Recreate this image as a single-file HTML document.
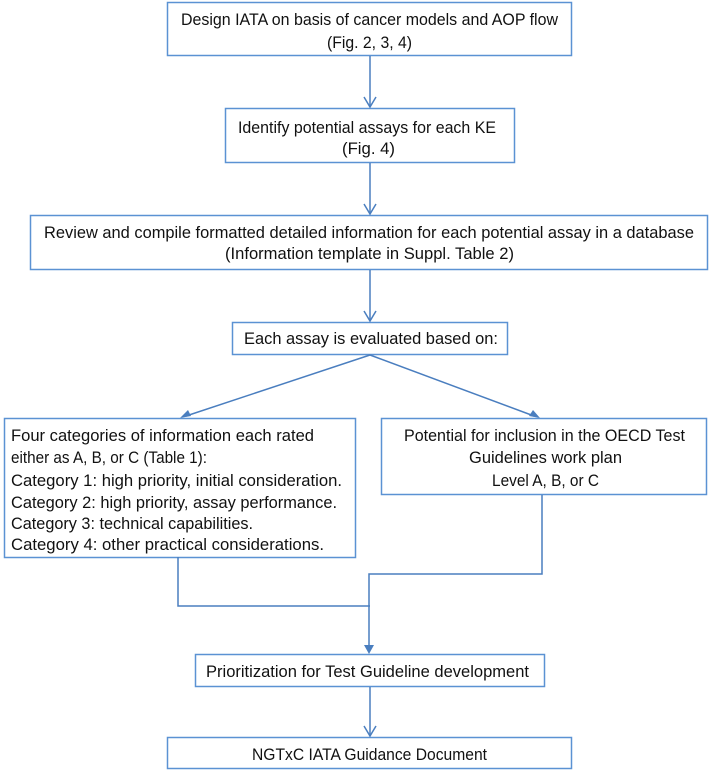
<!DOCTYPE html>
<html><head><meta charset="utf-8"><style>
html,body{margin:0;padding:0;background:#fff;overflow:hidden;width:709px;height:770px;}
svg{display:block;}
text{font-family:"Liberation Sans",sans-serif;font-size:17px;fill:#111;}
</style></head><body>
<svg width="709" height="770" viewBox="0 0 709 770" xmlns="http://www.w3.org/2000/svg">
<g fill="none" stroke="#5b92d3" stroke-width="1.5">
<rect x="167.5" y="2.5" width="404" height="53"/>
<rect x="225.5" y="108.5" width="289" height="54"/>
<rect x="30.5" y="215.5" width="677" height="54"/>
<rect x="232.5" y="322.5" width="275" height="32"/>
<rect x="4.5" y="418.5" width="351" height="139"/>
<rect x="381.5" y="418.5" width="325" height="76"/>
<rect x="195.5" y="654.5" width="349" height="32"/>
<rect x="167.5" y="737.5" width="404" height="31"/>
</g>
<g fill="none" stroke="#4a7ebf" stroke-width="1.5">
<line x1="370" y1="56" x2="370" y2="107"/><polyline points="364,97 370,107 376,97"/>
<line x1="370" y1="163" x2="370" y2="214"/><polyline points="364,204 370,214 376,204"/>
<line x1="370" y1="270" x2="370" y2="321"/><polyline points="364,311 370,321 376,311"/>
<line x1="370" y1="355" x2="186" y2="416"/>
<line x1="370" y1="355" x2="534" y2="416"/>
<polyline points="178,557 178,606 370,606"/>
<polyline points="542,495 542,574 369,574 369,645"/>
<line x1="370" y1="687" x2="370" y2="736"/><polyline points="364,726 370,736 376,726"/>
</g>
<g fill="#4a7ebf">
<polygon points="180,418 188,410 191,416"/>
<polygon points="540,418 529,416 533,410"/>
<polygon points="364,645 374,645 369,654"/>
</g>
<text x="181" y="25" textLength="377" lengthAdjust="spacingAndGlyphs">Design IATA on basis of cancer models and AOP flow</text>
<text x="327" y="48" textLength="85" lengthAdjust="spacingAndGlyphs">(Fig. 2, 3, 4)</text>
<text x="238" y="133" textLength="258" lengthAdjust="spacingAndGlyphs">Identify potential assays for each KE</text>
<text x="342" y="154" textLength="53" lengthAdjust="spacingAndGlyphs">(Fig. 4)</text>
<text x="44" y="238" textLength="650" lengthAdjust="spacingAndGlyphs">Review and compile formatted detailed information for each potential assay in a database</text>
<text x="225" y="259" textLength="289" lengthAdjust="spacingAndGlyphs">(Information template in Suppl. Table 2)</text>
<text x="244" y="344" textLength="254" lengthAdjust="spacingAndGlyphs">Each assay  is evaluated based on:</text>
<text x="11" y="441" textLength="303" lengthAdjust="spacingAndGlyphs">Four categories of information each rated</text>
<text x="11" y="463" textLength="196" lengthAdjust="spacingAndGlyphs">either as A, B, or C (Table 1):</text>
<text x="11" y="486" textLength="331" lengthAdjust="spacingAndGlyphs">Category 1: high priority, initial consideration.</text>
<text x="11" y="508" textLength="326" lengthAdjust="spacingAndGlyphs">Category 2: high priority, assay performance.</text>
<text x="11" y="529" textLength="242" lengthAdjust="spacingAndGlyphs">Category 3: technical capabilities.</text>
<text x="11" y="550" textLength="313" lengthAdjust="spacingAndGlyphs">Category 4: other practical considerations.</text>
<text x="404" y="441" textLength="281" lengthAdjust="spacingAndGlyphs">Potential for inclusion in the OECD Test</text>
<text x="469" y="463" textLength="153" lengthAdjust="spacingAndGlyphs">Guidelines work plan</text>
<text x="492" y="486" textLength="107" lengthAdjust="spacingAndGlyphs">Level A, B, or C</text>
<text x="206" y="677" textLength="323" lengthAdjust="spacingAndGlyphs">Prioritization for Test Guideline development</text>
<text x="252" y="760" textLength="235" lengthAdjust="spacingAndGlyphs">NGTxC IATA Guidance Document</text>
</svg>
</body></html>
